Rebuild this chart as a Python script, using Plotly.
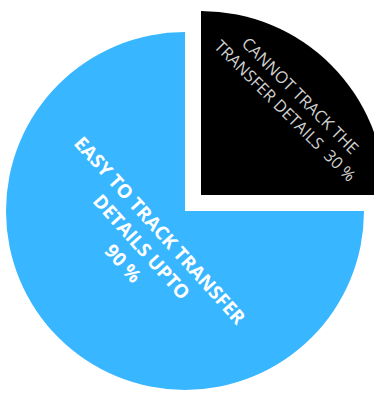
import plotly.graph_objects as go

categories = ["CANNOT TRACK THE<br>TRANSFER DETAILS", "EASY TO TRACK TRANSFER<br>DETAILS UPTO"]
values = [30, 90]
colors = ["#000000", "#38B6FF"]
joiners = ["&nbsp; ", "<br>"]

W, H = 392, 394
texts = [f"{c}{j}{v} %" for c, j, v in zip(categories, joiners, values)]
clear = "rgba(0,0,0,0)"

fig = go.Figure()
# blue slice
fig.add_trace(go.Pie(
    labels=categories, values=values, sort=False, direction="clockwise", rotation=0,
    marker=dict(colors=[clear, colors[1]], line=dict(width=0)),
    textinfo="none", hoverinfo="skip", showlegend=False,
    domain=dict(x=[6 / W, 364 / W], y=[(H - 390) / H, (H - 32) / H]),
))
# black slice, pulled out
fig.add_trace(go.Pie(
    labels=categories, values=values, sort=False, direction="clockwise", rotation=0,
    marker=dict(colors=[colors[0], clear], line=dict(width=0)),
    text=[texts[0], ""], textinfo="text", insidetextorientation="tangential",
    textfont=dict(family="Open Sans", size=16.5, color="#d0d0d0"),
    hoverinfo="skip", showlegend=False,
    domain=dict(x=[17 / W, 385 / W], y=[(H - 379) / H, (H - 11) / H]),
))
# label of the blue slice
fig.add_annotation(
    text=texts[1], xref="paper", yref="paper", x=142 / W, y=1 - 246 / H,
    xanchor="center", yanchor="middle", textangle=48, showarrow=False,
    font=dict(family="Open Sans", size=19, color="white", weight="bold"),
)
fig.update_layout(width=W, height=H, margin=dict(l=0, r=0, t=0, b=0),
                  paper_bgcolor="white", plot_bgcolor="white")
fig.write_html("out.html", config={"displayModeBar": False},
               post_script="document.body.style.margin='0px';")
